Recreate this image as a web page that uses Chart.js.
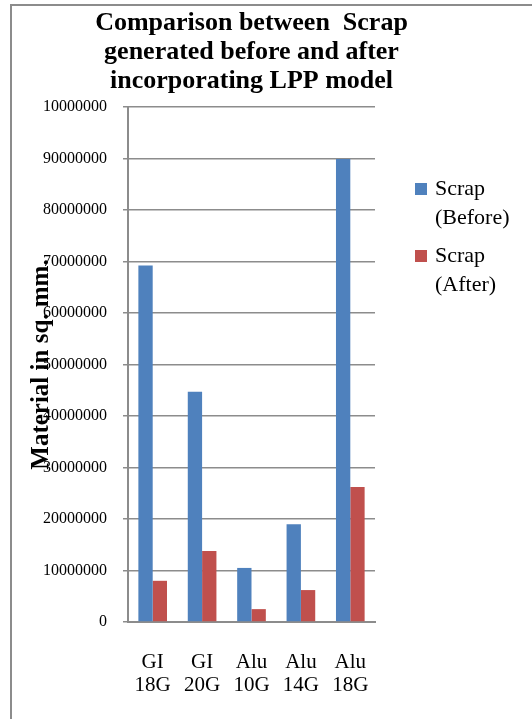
<!DOCTYPE html>
<html>
<head>
<meta charset="utf-8">
<script src="https://cdn.jsdelivr.net/npm/chart.js@4.4.1/dist/chart.umd.min.js"></script>
<style>
  html, body { margin: 0; padding: 0; background: #fff; overflow: hidden; }
  #frame { position: absolute; left: 10px; top: 4px; width: 600px; height: 800px;
           border-left: 2px solid #8c8c8c; border-top: 2px solid #8c8c8c; }
  #wrap { position: absolute; left: 0; top: 0; width: 532px; height: 719px; }
</style>
</head>
<body>
<div id="frame"></div>
<div id="wrap"><canvas id="c" width="532" height="719"></canvas></div>
<script>
// Sheet sizes (two-line category labels)
const categories = [['GI', '18G'], ['GI', '20G'], ['Alu', '10G'], ['Alu', '14G'], ['Alu', '18G']];

// Scrap area in sq. mm.
const scrapBefore = [69200000, 44700000, 10500000, 19000000, 89900000];
const scrapAfter  = [8000000, 13800000, 2500000, 6200000, 26200000];

const seriesNames = [['Scrap', '(Before)'], ['Scrap', '(After)']];
const seriesColors = ['#4F81BD', '#C0504D'];

// Value axis labels, bottom to top
const yTickLabels = ['0', '10000000', '20000000', '30000000', '40000000', '50000000',
                     '60000000', '70000000', '80000000', '90000000', '10000000'];

const titleLines = ['Comparison between  Scrap', 'generated before and after', 'incorporating LPP model'];
const yAxisTitle = 'Material in sq. mm.';

const SERIF = '"Liberation Serif", "Times New Roman", Times, serif';

// Three-line bold heading centred over the plot area
const headingPlugin = {
  id: 'heading',
  afterDraw(chart) {
    const { ctx, chartArea } = chart;
    const cx = (chartArea.left + chartArea.right) / 2;
    ctx.save();
    ctx.font = 'bold 26px ' + SERIF;
    ctx.fillStyle = '#000';
    ctx.textAlign = 'center';
    ctx.textBaseline = 'middle';
    titleLines.forEach((line, i) => ctx.fillText(line, cx, 23 + i * 29));
    ctx.restore();
  }
};

// Key to the right of the plot, one two-line entry per series
const keyPlugin = {
  id: 'sideKey',
  afterDraw(chart) {
    const { ctx, chartArea } = chart;
    const x0 = chartArea.right + 40;
    ctx.save();
    ctx.font = '22px ' + SERIF;
    ctx.textBaseline = 'middle';
    ctx.textAlign = 'left';
    chart.data.datasets.forEach((ds, i) => {
      const top = 189 + i * 67;
      ctx.fillStyle = ds.backgroundColor;
      ctx.fillRect(x0, top - 6, 12, 12);
      ctx.fillStyle = '#000';
      ds.label.forEach((line, j) => ctx.fillText(line, x0 + 20, top + j * 29));
    });
    ctx.restore();
  }
};

new Chart(document.getElementById('c'), {
  type: 'bar',
  data: {
    labels: categories,
    datasets: [
      { label: seriesNames[0], data: scrapBefore, backgroundColor: seriesColors[0],
        categoryPercentage: 0.58, barPercentage: 1.0 },
      { label: seriesNames[1], data: scrapAfter, backgroundColor: seriesColors[1],
        categoryPercentage: 0.58, barPercentage: 1.0 }
    ]
  },
  options: {
    responsive: false,
    animation: false,
    devicePixelRatio: 1,
    layout: { padding: { top: 107, right: 157, left: 0, bottom: 0 } },
    plugins: {
      legend: { display: false },
      title: { display: false },
      tooltip: { enabled: false }
    },
    scales: {
      x: {
        grid: { display: false },
        border: { display: true, color: '#8c8c8c', width: 2 },
        ticks: {
          color: '#000',
          padding: 21,
          font: { family: SERIF, size: 21, lineHeight: 1.1 },
          maxRotation: 0,
          autoSkip: false
        },
        afterFit(scale) { scale.height = 97; }
      },
      y: {
        min: 0,
        max: 100000000,
        grid: { color: '#8c8c8c', lineWidth: 1.5, tickLength: 5, drawTicks: true },
        border: { display: true, color: '#8c8c8c', width: 2 },
        ticks: {
          stepSize: 10000000,
          autoSkip: false,
          color: '#000',
          padding: 16,
          font: { family: SERIF, size: 16 },
          callback: (value, index) => yTickLabels[index]
        },
        title: {
          display: true,
          text: yAxisTitle,
          color: '#000',
          font: { family: SERIF, size: 25, weight: 'bold', lineHeight: 1.2 },
          padding: { top: 27, bottom: 0 }
        },
        afterFit(scale) { scale.width = 128; }
      }
    }
  },
  plugins: [headingPlugin, keyPlugin]
});
</script>
</body>
</html>
